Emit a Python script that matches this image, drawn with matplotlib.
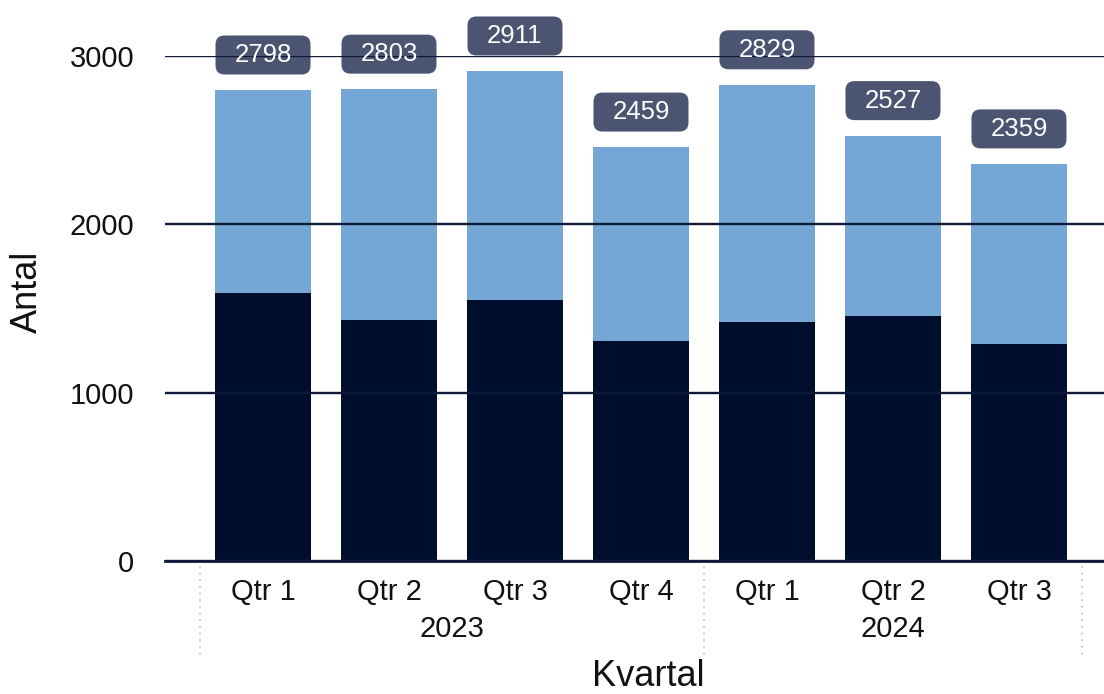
import matplotlib
matplotlib.use("Agg")
import matplotlib.pyplot as plt
import matplotlib.transforms as mtransforms
from matplotlib.patches import FancyBboxPatch
import numpy as np

plt.rcParams['font.family'] = ['Liberation Sans', 'DejaVu Sans']

# data
quarters = ["Qtr 1", "Qtr 2", "Qtr 3", "Qtr 4", "Qtr 1", "Qtr 2", "Qtr 3"]
years = ["2023", "2024"]
year_spans = [(0, 3), (4, 6)]
totals = [2798, 2803, 2911, 2459, 2829, 2527, 2359]
bottom_part = [1590, 1434, 1551, 1305, 1418, 1458, 1289]
top_part = [t - b for t, b in zip(totals, bottom_part)]

dark = "#000e2e"
light = "#74a7d5"
boxcol = "#4b5470"
gridcol = "#0e1a38"
textcol = "#111111"

fig = plt.figure(figsize=(11.04, 6.94), dpi=100)
ax = fig.add_axes([165 / 1104, 133 / 694, 939 / 1104, 505 / 694])

x = np.arange(len(quarters))
w = 0.755
ax.bar(x, bottom_part, width=w, color=dark, linewidth=0, zorder=2)
ax.bar(x, top_part, width=w, bottom=bottom_part, color=light, linewidth=0, zorder=2)

ax.set_ylim(0, 3000)
ax.set_xlim(-0.778, 6.675)
ax.set_yticks([0, 1000, 2000, 3000])
ax.yaxis.grid(True, color=gridcol, linewidth=1.7, zorder=3)
ax.set_axisbelow(False)
ax.tick_params(axis='y', length=0, labelsize=21, colors=textcol, pad=22)
ax.tick_params(axis='x', length=0, labelsize=21, colors=textcol, pad=12)
ax.set_xticks(x)
ax.set_xticklabels(quarters)
for s in ax.spines.values():
    s.set_visible(False)
ax.axhline(0, color=gridcol, linewidth=2, zorder=4, clip_on=False)

# value labels in boxes as wide as the bars (pixel units), under the gridlines
box_w, box_h, lift = 95, 39, 35
for xi, t in zip(x, totals):
    px, py = ax.transData.transform((xi, t))
    cy = py + lift
    box = FancyBboxPatch((px - box_w / 2, cy - box_h / 2), box_w, box_h,
                         boxstyle='round,pad=0,rounding_size=9',
                         transform=mtransforms.IdentityTransform(),
                         fc=boxcol, ec='none', zorder=2.5, clip_on=False)
    ax.add_patch(box)
    ax.annotate(str(t), xy=(px, cy), xycoords='figure pixels',
                ha='center', va='center', fontsize=18.5, color='white',
                zorder=2.6, annotation_clip=False)

# year labels and separators
trans = mtransforms.blended_transform_factory(ax.transData, ax.transAxes)
for yr, (a, b) in zip(years, year_spans):
    ax.text((a + b) / 2, -0.135, yr, transform=trans, ha='center', va='center',
            fontsize=21, color=textcol)
for sx in [-0.5, 3.5, 6.5]:
    ax.plot([sx, sx], [-0.01, -0.19], transform=trans, color='#bbbbbb',
            linestyle=(0, (1, 3)), linewidth=1.2, clip_on=False)

ax.set_ylabel("Antal", fontsize=26, color=textcol)
ax.yaxis.set_label_coords(-0.128, 0.533)
fig.text(648 / 1104, 8 / 694, "Kvartal", ha='center', va='baseline',
         fontsize=26, color=textcol)

fig.savefig("out.png", dpi=100)
